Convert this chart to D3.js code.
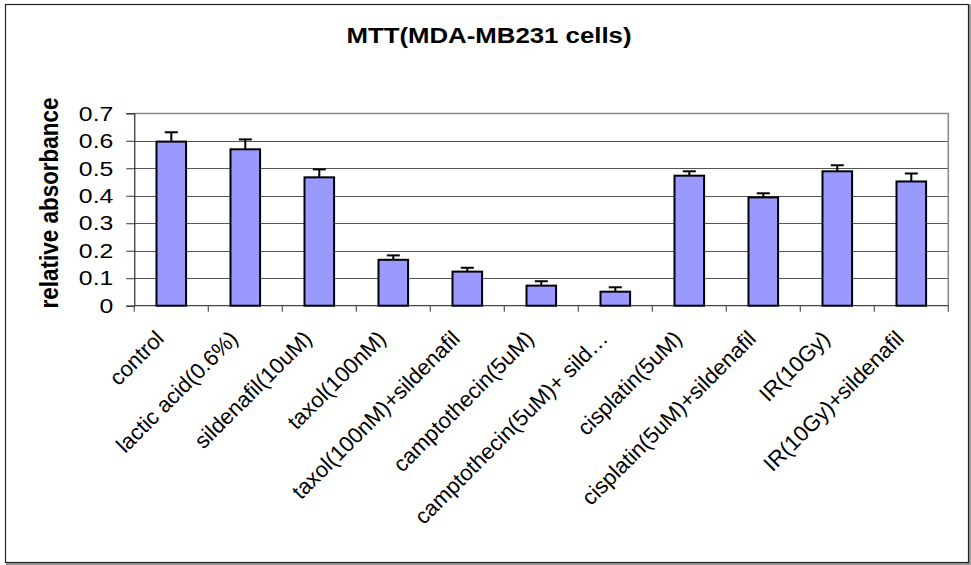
<!DOCTYPE html>
<html>
<head>
<meta charset="utf-8">
<script src="https://cdn.jsdelivr.net/npm/d3@7"></script>
<style>
  html, body { margin: 0; padding: 0; background: #fff; }
  svg { display: block; font-family: Arial, "Liberation Sans", sans-serif; }
</style>
</head>
<body>
<svg id="chart" width="971" height="565"></svg>
<script>
const title = "MTT(MDA-MB231 cells)";
const yLabel = "relative absorbance";
const categories = ["control", "lactic acid(0.6%)", "sildenafil(10uM)", "taxol(100nM)",
  "taxol(100nM)+sildenafil", "camptothecin(5uM)", "camptothecin(5uM)+ sild\u2026",
  "cisplatin(5uM)", "cisplatin(5uM)+sildenafil", "IR(10Gy)", "IR(10Gy)+sildenafil"];
const values = [0.597, 0.569, 0.467, 0.167, 0.124, 0.073, 0.051, 0.473, 0.394, 0.489, 0.452];
const errors = [0.034, 0.036, 0.029, 0.016, 0.014, 0.016, 0.016, 0.016, 0.015, 0.022, 0.029];
const yTicks = [0, 0.1, 0.2, 0.3, 0.4, 0.5, 0.6, 0.7];

const svg = d3.select("#chart");
const L = 134.3, R = 948.3, T = 113.3, B = 305.7;
const stretch = 1.18;

const x = d3.scaleBand().domain(categories).range([L, R]).paddingInner(0.6).paddingOuter(0.3);
const y = d3.scaleLinear().domain([0, 0.7]).range([B, T]);
const step = x.step();

// outer frame
svg.append("rect").attr("x", 7).attr("y", 5.5).attr("width", 963).attr("height", 558.5)
  .attr("fill", "none").attr("stroke", "#999").attr("stroke-width", 2);
svg.append("rect").attr("x", 5.5).attr("y", 4.5).attr("width", 963).attr("height", 558)
  .attr("fill", "#fff").attr("stroke", "#222").attr("stroke-width", 1.2);

// title
svg.append("text").attr("transform", `translate(489,43) scale(1.2,1)`)
  .attr("text-anchor", "middle").attr("font-size", 21.5).attr("font-weight", "bold")
  .attr("fill", "#000").text(title);

// gridlines
svg.append("g").selectAll("line").data(yTicks.filter(d => d > 0 && d < 0.7)).join("line")
  .attr("x1", L).attr("x2", R).attr("y1", d => Math.round(y(d)) + 0.5).attr("y2", d => Math.round(y(d)) + 0.5)
  .attr("stroke", "#555").attr("stroke-width", 1);

// plot area border top/right
svg.append("path").attr("d", `M${L},${Math.round(T)+0.5}H${R}V${B}`)
  .attr("fill", "none").attr("stroke", "#888").attr("stroke-width", 1.5);

// y axis
const yAxis = svg.append("g").attr("transform", `translate(${L},0)`)
  .call(d3.axisLeft(y).tickValues(yTicks).tickSize(8).tickPadding(13)
    .tickFormat(d => d === 0 ? "0" : d3.format(".1f")(d)));
yAxis.select(".domain").attr("stroke", "#000");
yAxis.selectAll(".tick line").attr("stroke", "#333");
yAxis.selectAll(".tick text").attr("font-size", 21).attr("fill", "#000")
  .attr("font-family", "Arial, 'Liberation Sans', sans-serif")
  .each(function() {
    const t = d3.select(this);
    const xx = +t.attr("x");
    t.attr("x", null).attr("transform", `translate(${xx},0) scale(${stretch},1)`);
  });

// y label
svg.append("text").attr("transform", `translate(58,203) scale(${stretch},1) rotate(-90)`)
  .attr("text-anchor", "middle").attr("font-size", 22.5).attr("font-weight", "bold")
  .attr("fill", "#000").text(yLabel);

// x axis line and ticks at category boundaries
svg.append("line").attr("x1", L).attr("x2", R).attr("y1", B).attr("y2", B)
  .attr("stroke", "#444").attr("stroke-width", 1.2);
const bounds = d3.range(categories.length + 1).map(i => L + i * step);
svg.append("g").selectAll("line").data(bounds).join("line")
  .attr("x1", d => d).attr("x2", d => d).attr("y1", B).attr("y2", B + 6)
  .attr("stroke", "#555").attr("stroke-width", 1.2);

// bars
svg.append("g").selectAll("rect").data(values).join("rect")
  .attr("x", (d, i) => x(categories[i]))
  .attr("y", d => y(d))
  .attr("width", x.bandwidth())
  .attr("height", d => B - y(d))
  .attr("fill", "#9999FF").attr("stroke", "#000").attr("stroke-width", 2);

// error bars
const eb = svg.append("g").attr("stroke", "#000").attr("stroke-width", 2);
values.forEach((v, i) => {
  const cx = x(categories[i]) + x.bandwidth() / 2;
  eb.append("line").attr("x1", cx).attr("x2", cx).attr("y1", y(v)).attr("y2", y(v + errors[i]));
  eb.append("line").attr("x1", cx - 6.5).attr("x2", cx + 6.5).attr("y1", y(v + errors[i])).attr("y2", y(v + errors[i]));
});

// x labels
svg.append("g").selectAll("text").data(categories).join("text")
  .attr("transform", d => `translate(${x(d) + x.bandwidth() / 2 - 6},340) rotate(-45)`)
  .attr("text-anchor", "end").attr("font-size", 22).attr("fill", "#000")
  .text(d => d);
</script>
</body>
</html>
